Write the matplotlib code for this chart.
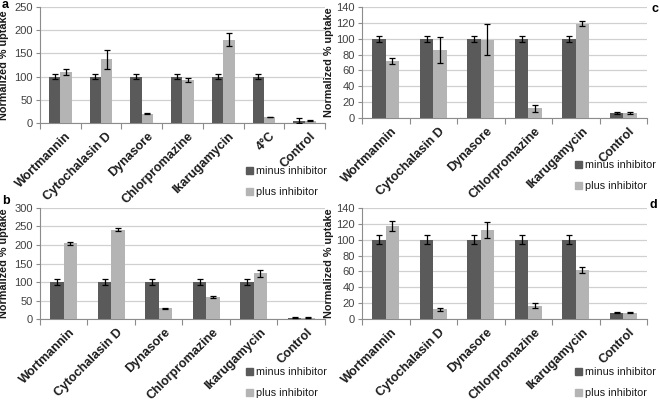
import numpy as np
import matplotlib.pyplot as plt
from matplotlib.patches import Patch

plt.rcParams['font.family'] = ['Liberation Sans', 'DejaVu Sans']

cats_a = ['Wortmannin', 'Cytochalasin D', 'Dynasore', 'Chlorpromazine', 'Ikarugamycin', '4°C', 'Control']
cats = ['Wortmannin', 'Cytochalasin D', 'Dynasore', 'Chlorpromazine', 'Ikarugamycin', 'Control']

# panel a
minus_a = [100, 100, 100, 100, 100, 100, 5]
minus_a_err = [5, 5, 5, 5, 5, 5, 5]
plus_a = [110, 137, 20, 93, 179, 13, 5]
plus_a_err = [7, 20, 1, 5, 14, 1, 1]

# panel b
minus_b = [100, 100, 100, 100, 100, 4]
minus_b_err = [9, 9, 9, 9, 9, 1]
plus_b = [205, 241, 29, 59, 123, 4]
plus_b_err = [4, 4, 1, 3, 10, 1]

# panel c
minus_c = [100, 100, 100, 100, 100, 6]
minus_c_err = [4, 4, 4, 4, 4, 1]
plus_c = [72, 86, 99, 12, 119, 6]
plus_c_err = [4, 16, 20, 5, 3, 1]

# panel d
minus_d = [100, 100, 100, 100, 100, 8]
minus_d_err = [6, 6, 6, 6, 6, 0.5]
plus_d = [117, 12, 112, 17, 62, 8]
plus_d_err = [6, 1.5, 10, 3, 4, 1]

DARK = '#5a5a5a'
LIGHT = '#b4b4b4'


def panel(rect, labels, minus, minus_err, plus, plus_err, ymax, step, leg_xy, lab_off):
    ax = fig.add_axes(rect)
    n = len(labels)
    x = np.arange(n)
    w = 0.28
    ax.bar(x - w / 2, minus, w, color=DARK, yerr=minus_err, capsize=2,
           error_kw=dict(elinewidth=0.9, capthick=0.9, ecolor='black'), zorder=3)
    ax.bar(x + w / 2, plus, w, color=LIGHT, yerr=plus_err, capsize=2,
           error_kw=dict(elinewidth=0.9, capthick=0.9, ecolor='black'), zorder=3)
    ax.set_xlim(-0.5, n - 0.5)
    ax.set_ylim(0, ymax)
    ax.set_yticks(np.arange(0, ymax + 1, step))
    ax.yaxis.grid(True, color='#d0d0d0', linewidth=0.9)
    ax.set_axisbelow(True)
    for s in ['top', 'right']:
        ax.spines[s].set_visible(False)
    for s in ['left', 'bottom']:
        ax.spines[s].set_color('#8c8c8c')
        ax.spines[s].set_linewidth(0.8)
    ax.tick_params(axis='y', labelsize=8, colors='#8c8c8c', labelcolor='#404040', length=3, width=0.8, pad=2)
    ax.set_xticks(np.arange(n + 1) - 0.5, minor=False)
    ax.set_xticklabels([])
    ax.tick_params(axis='x', which='major', length=4, color='#8c8c8c', width=0.8)
    ax.set_xticks(x + 0.12, minor=True)
    ax.set_xticklabels(labels, minor=True, rotation=45, ha='right', rotation_mode='anchor',
                       fontsize=9, fontweight='bold', color='#1a1a1a')
    ax.tick_params(axis='x', which='minor', length=0, pad=5)
    ax.set_ylabel('Normalized % uptake', fontsize=7.8, fontweight='bold', color='#1a1a1a')
    ax.yaxis.set_label_coords(-lab_off / (rect[2] * 660), 0.5)
    handles = [Patch(color=DARK, label='minus inhibitor'), Patch(color=LIGHT, label='plus inhibitor')]
    fig.legend(handles=handles, loc='upper left', bbox_to_anchor=leg_xy, frameon=False,
               fontsize=7.8, handlelength=0.6, handleheight=0.6, handletextpad=0.3,
               labelspacing=1.05, borderpad=0, borderaxespad=0, labelcolor='#1a1a1a')
    return ax


fig = plt.figure(figsize=(6.6, 4.03), dpi=100)

panel([0.0606, 0.6948, 0.4318, 0.2878], cats_a, minus_a, minus_a_err, plus_a, plus_a_err,
      250, 50, (246 / 660, 1 - 166 / 403), 31)
panel([0.5485, 0.7072, 0.4318, 0.2754], cats, minus_c, minus_c_err, plus_c, plus_c_err,
      140, 20, (575 / 660, 1 - 160 / 403), 28)
panel([0.0606, 0.2084, 0.4318, 0.2755], cats, minus_b, minus_b_err, plus_b, plus_b_err,
      300, 50, (246 / 660, 1 - 367 / 403), 31)
panel([0.5485, 0.2084, 0.4318, 0.2755], cats, minus_d, minus_d_err, plus_d, plus_d_err,
      140, 20, (575 / 660, 1 - 367 / 403), 28)

fig.text(2 / 660, 1 - 5 / 403, 'a', fontsize=9, fontweight='bold', va='center')
fig.text(2 / 660, 1 - 201 / 403, 'b', fontsize=9, fontweight='bold', va='center')
fig.text(651 / 660, 1 - 9 / 403, 'c', fontsize=9, fontweight='bold', va='center')
fig.text(650 / 660, 1 - 205 / 403, 'd', fontsize=9, fontweight='bold', va='center')

fig.savefig('out.png', dpi=100)
